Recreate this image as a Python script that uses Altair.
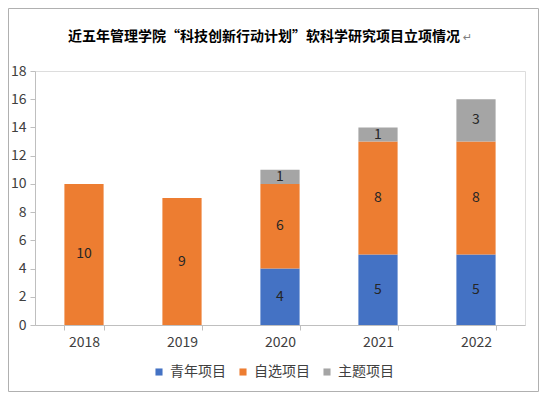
import altair as alt
import pandas as pd

years = ["2018", "2019", "2020", "2021", "2022"]
series = ["青年项目", "自选项目", "主题项目"]
qingnian = [0, 0, 4, 5, 5]
zixuan = [10, 9, 6, 8, 8]
zhuti = [0, 0, 1, 1, 3]
colors = ["#4472C4", "#ED7D31", "#A5A5A5"]
title_text = "近五年管理学院“科技创新行动计划”软科学研究项目立项情况"

rows = []
for i, yr in enumerate(years):
    for k, (s, vals) in enumerate(zip(series, [qingnian, zixuan, zhuti])):
        if vals[i] > 0:
            rows.append({"year": yr, "series": s, "value": vals[i], "order": k})
df = pd.DataFrame(rows)

FONT = "Noto Sans CJK SC"
W, H = 490, 254
AX = "#BFBFBF"
TXT = "#404040"

xaxis = alt.Axis(title=None, labelAngle=0, tickBand="extent",
                 domainColor=AX, tickColor=AX, tickSize=5,
                 labelFont=FONT, labelFontSize=14, labelColor=TXT,
                 labelPadding=5)
yaxis = alt.Axis(values=[0, 2, 4, 6, 8, 10, 12, 14, 16, 18], title=None, grid=False,
                 labelOverlap=False, tickCount=10,
                 domainColor=AX, tickColor=AX, tickSize=5,
                 labelFont=FONT, labelFontSize=14, labelColor=TXT,
                 labelPadding=4)
yscale = alt.Scale(domain=[0, 18], nice=False)

bars = alt.Chart(df).mark_bar().encode(
    x=alt.X("year:N", sort=years,
            scale=alt.Scale(paddingInner=0.6, paddingOuter=0.3), axis=xaxis),
    y=alt.Y("value:Q", stack="zero", scale=yscale, axis=yaxis),
    color=alt.Color("series:N", scale=alt.Scale(domain=series, range=colors),
                    legend=alt.Legend(title=None, orient="none", direction="horizontal",
                                      legendX=117, legendY=294, symbolType="square",
                                      symbolSize=50, symbolStrokeWidth=0,
                                      labelFont=FONT, labelFontSize=14, labelColor=TXT,
                                      columnPadding=10, labelOffset=4)),
    order=alt.Order("order:Q"),
)

labels = alt.Chart(df).transform_stack(
    stack="value", as_=["v0", "v1"], groupby=["year"],
    sort=[alt.SortField("order", order="ascending")]
).transform_calculate(mid="(datum.v0 + datum.v1) / 2").mark_text(
    font=FONT, fontSize=14, color="#262626", baseline="middle"
).encode(
    x=alt.X("year:N", sort=years, axis=xaxis),
    y=alt.Y("mid:Q", scale=yscale, axis=yaxis),
    text=alt.Text("value:Q"),
)

one = pd.DataFrame({"t": [title_text]})
title = alt.Chart(one).mark_text(
    font=FONT, fontSize=14, fontWeight="bold", color="#000000",
    align="center", baseline="middle"
).encode(text="t:N", x=alt.value(229), y=alt.value(-34))

ret = alt.Chart(pd.DataFrame({"t": ["↵"]})).mark_text(
    font="DejaVu Sans", fontSize=11, color="#808080", align="left", baseline="middle"
).encode(text="t:N", x=alt.value(428), y=alt.value(-33))

frame = alt.Chart(pd.DataFrame({"a": [0]})).mark_rect(
    fill="transparent", stroke="#B0B0B0", strokeWidth=1
).encode(x=alt.value(-26.5), x2=alt.value(503.5), y=alt.value(-62.5), y2=alt.value(320.5))

chart = alt.layer(frame, bars, labels, title, ret).properties(
    width=W, height=H,
    autosize=alt.AutoSizeParams(type="none"),
    padding={"left": 27, "top": 63, "right": 14, "bottom": 68},
).configure_view(stroke=None).configure(background="white")

chart.save("out.html", embed_options={"renderer": "svg", "actions": False})
